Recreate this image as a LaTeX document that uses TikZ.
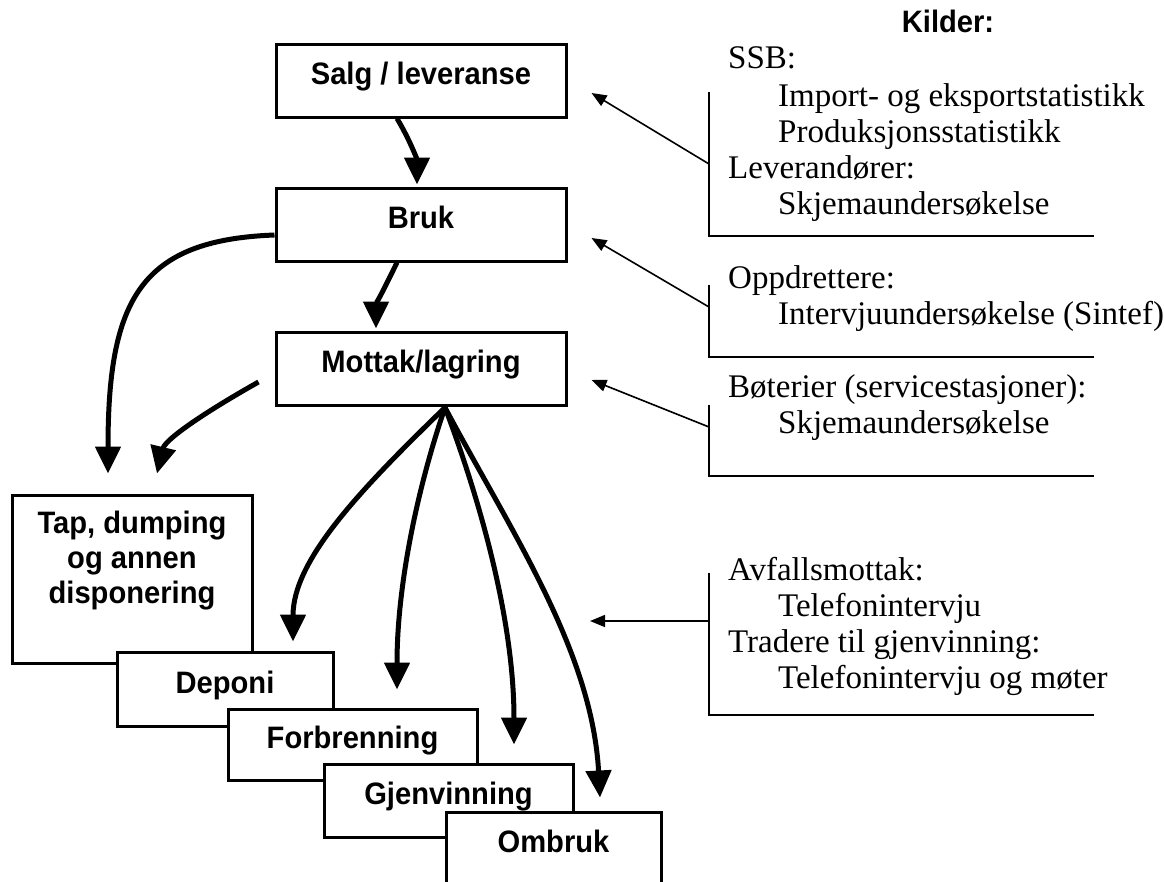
\documentclass[tikz,border=0pt]{standalone}
\usepackage{fontspec}
\setmainfont{Liberation Serif}
\setsansfont{Liberation Sans}[FakeStretch=0.94]
\usetikzlibrary{arrows.meta}
\begin{document}
\begin{tikzpicture}[x=1pt,y=-1pt,
  box/.style={draw, line width=3pt, fill=white, inner sep=0pt,
    font=\sffamily\bfseries\fontsize{31}{35}\selectfont, text height=14pt, text depth=6pt},
  flow/.style={line width=5pt, -{Triangle[length=27pt,width=25pt]}},
  src/.style={line width=1.6pt, -{Triangle[length=15pt,width=12pt]}},
  brk/.style={line width=1.6pt},
  srctext/.style={align=left, anchor=north west, inner sep=0pt, font=\fontsize{33}{36}\selectfont},
  boldtext/.style={inner sep=0pt, font=\sffamily\bfseries\fontsize{31}{35}\selectfont}
]
\useasboundingbox (0,0) rectangle (1164,881);
\clip (0,0) rectangle (1164,881);

% main chain
\node[box, minimum width=290pt, minimum height=73pt] (salg) at (421,80.5) {Salg / leveranse};
\node[box, minimum width=290pt, minimum height=73pt] (bruk) at (421,224.5) {Bruk};
\node[box, minimum width=290pt, minimum height=73pt] (mottak) at (421,368.5) {Mottak/lagring};

% stacked boxes
\node[box, minimum width=240pt, minimum height=168pt] (tap) at (132,579) {};
\node[boldtext, align=center, anchor=north] (taptext) at (132,510)
  {\rule{0pt}{23pt}Tap, dumping\\og annen\\disponering};
\node[box, minimum width=216pt, minimum height=74pt] (deponi) at (225,689) {Deponi};
\node[box, minimum width=249pt, minimum height=71pt] (forbr) at (352.5,744.5) {Forbrenning};
\node[box, minimum width=249pt, minimum height=73pt] (gjen) at (448.5,800.5) {Gjenvinning};
\node[box, minimum width=215pt, minimum height=73pt] (ombruk) at (553.5,848.5) {Ombruk};

% thick flow arrows
\draw[flow] ([xshift=-24pt]salg.south) .. controls (410,140) and (417,160) .. ([xshift=-4pt,yshift=2pt]bruk.north);
\draw[flow] ([xshift=-24pt]bruk.south) .. controls (386,285) and (376,305) .. ([xshift=-45pt,yshift=2pt]mottak.north);
\draw[flow] ([yshift=-10.5pt]bruk.west) .. controls (140,240) and (108,300) .. ([xshift=-24pt,yshift=20pt]tap.north);
\coordinate (mfree) at ([xshift=-16pt,yshift=-13.5pt]mottak.west);
\draw[flow] (mfree) .. controls (200,415) and (165,440) .. ([xshift=25pt,yshift=20pt]tap.north);

\coordinate (fan) at ([xshift=24pt,yshift=-1pt]mottak.south);
\draw[flow] (fan) .. controls (360,490) and (293,560) .. ([xshift=68pt,yshift=9pt]deponi.north);
\draw[flow] (fan) .. controls (420,480) and (397,580) .. ([xshift=44.5pt,yshift=18pt]forbr.north);
\draw[flow] (fan) .. controls (480,500) and (514,620) .. ([xshift=65.5pt,yshift=18pt]gjen.north);
\draw[flow] (fan) .. controls (510,530) and (592,650) .. ([xshift=46.5pt,yshift=13pt]ombruk.north);

% sources
\node[boldtext, anchor=base] (kilder) at (948,32) {Kilder:};

\node[srctext] (s1text) at (728,44) {\rule{0pt}{24pt}SSB:\\[2pt]\hspace*{50pt}Import- og eksportstatistikk\\\hspace*{50pt}Produksjonsstatistikk\\Leverandører:\\\hspace*{50pt}Skjemaundersøkelse};
\node[srctext] (s2text) at (728,264) {\rule{0pt}{24pt}Oppdrettere:\\\hspace*{50pt}Intervjuundersøkelse (Sintef)};
\node[srctext] (s3text) at (728,373) {\rule{0pt}{24pt}Bøterier (servicestasjoner):\\\hspace*{50pt}Skjemaundersøkelse};
\node[srctext] (s4text) at (728,556) {\rule{0pt}{24pt}Avfallsmottak:\\\hspace*{50pt}Telefonintervju\\Tradere til gjenvinning:\\\hspace*{50pt}Telefonintervju og møter};

\draw[brk] (709,92) -- (709,236) -- (1094,236);
\draw[brk] (709,285) -- (709,357) -- (1094,357);
\draw[brk] (709,405) -- (709,476) -- (1094,476);
\draw[brk] (709,573) -- (709,715) -- (1094,715);

\coordinate (s1) at (709,164);
\coordinate (s2) at (709,307);
\coordinate (s3) at (709,427);
\coordinate (s4) at (709,621);
\coordinate (t4) at (590,621);
\draw[src] (s1) -- ([xshift=24pt,yshift=-12.5pt]salg.east);
\draw[src] (s2) -- ([xshift=24pt,yshift=-13.5pt]bruk.east);
\draw[src] (s3) -- ([xshift=24pt,yshift=-11.5pt]mottak.east);
\draw[src] (s4) -- (t4);
\end{tikzpicture}
\end{document}
